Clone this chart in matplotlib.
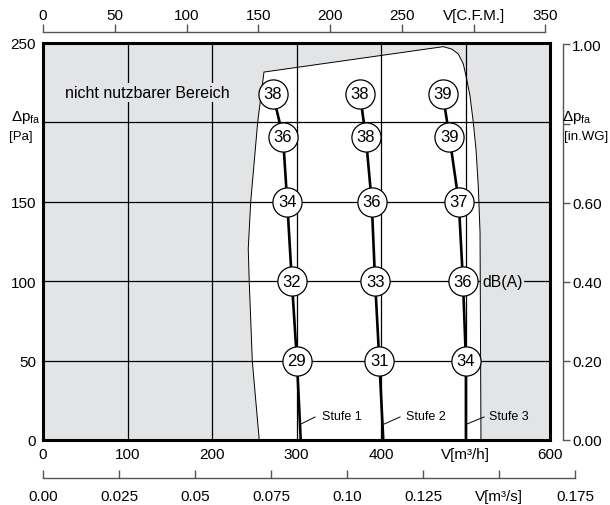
import numpy as np
import matplotlib
matplotlib.use("Agg")
import matplotlib.pyplot as plt

plt.rcParams['font.family'] = ['Liberation Sans', 'DejaVu Sans']
plt.rcParams['mathtext.fontset'] = 'custom'
plt.rcParams['mathtext.rm'] = 'Liberation Sans'
plt.rcParams['mathtext.it'] = 'Liberation Sans:italic'

# Kennlinien: Volumenstrom [m3/h], Druck [Pa], Schallpegel [dB(A)]
stufe1_q = [272, 284, 289, 294.5, 300.5, 305]
stufe1_p = [218, 191, 150, 100, 50, 0]
stufe1_db = [38, 36, 34, 32, 29]

stufe2_q = [375, 382, 389, 393, 398, 402.7]
stufe2_p = [218, 191, 150, 100, 50, 0]
stufe2_db = [38, 38, 36, 33, 31]

stufe3_q = [473, 481, 492, 497, 500.5, 500.5]
stufe3_p = [218, 191, 150, 100, 50, 0]
stufe3_db = [39, 39, 37, 36, 34]

# Grenze des nutzbaren Bereichs
grenze_q = [255.9, 247.7, 244.1, 242.9, 245.8, 254.1, 261.5,
            473.7, 483.7, 491.5, 497.4, 501.4, 505.3, 509.2, 512.4,
            515.1, 517.2, 518.3]
grenze_p = [0, 49.7, 99.5, 120.3, 149.9, 200.3, 231.7,
            247.7, 246.2, 243.1, 236.8, 227.3, 216.8, 200.1, 183.2,
            160.1, 130.8, 0]

x_ticks = [0, 100, 200, 300, 400, 500, 600]
x_labels = ['0', '100', '200', '300', '400', 'V[m³/h]', '600']
y_ticks = [0, 50, 100, 150, 200, 250]
y_labels = ['0', '50', '100', '150', '', '250']

cfm_ticks = [0, 50, 100, 150, 200, 250, 300, 350]
cfm_labels = ['0', '50', '100', '150', '200', '250', 'V[C.F.M.]', '350']
m3s_ticks = [0, 0.025, 0.05, 0.075, 0.10, 0.125, 0.15, 0.175]
m3s_labels = ['0.00', '0.025', '0.05', '0.075', '0.10', '0.125', 'V[m³/s]', '0.175']
inwg_ticks = [0, 0.2, 0.4, 0.6, 0.8, 1.0]
inwg_labels = ['0.00', '0.20', '0.40', '0.60', '', '1.00']

M3H_PER_CFM = 1.699
PA_PER_INWG = 249.09

gray = '#e3e4e6'
axis_gray = '#555555'

W_PX, H_PX = 610, 506
fig = plt.figure(figsize=(W_PX / 100, H_PX / 100), dpi=100)

def fx(x):
    return x / W_PX

def fy(y):
    return 1 - y / H_PX

L, R, T, B = fx(43), fx(550), fy(44), fy(441)
ax = fig.add_axes([L, B, R - L, T - B])
ax.set_xlim(0, 600)
ax.set_ylim(0, 250)
ax.set_facecolor(gray)

ax.fill(grenze_q, grenze_p, color='white', zorder=0.5, lw=0)
ax.plot(grenze_q, grenze_p, color='black', lw=0.7, zorder=2)

ax.set_xticks(x_ticks)
ax.set_xticklabels(x_labels)
ax.set_yticks(y_ticks)
ax.set_yticklabels(y_labels)
ax.grid(True, color='black', lw=0.9)
ax.tick_params(length=0, labelsize=11, pad=5)
for s in ax.spines.values():
    s.set_linewidth(2.2)
    s.set_zorder(6)

for q, p, db in [(stufe1_q, stufe1_p, stufe1_db),
                 (stufe2_q, stufe2_p, stufe2_db),
                 (stufe3_q, stufe3_p, stufe3_db)]:
    ax.plot(q, p, color='black', lw=1.9, zorder=3)
    ax.plot(q[:-1], p[:-1], 'o', ms=21, mfc='white', mec='black', mew=0.9, zorder=4)
    for qq, pp, d in zip(q[:-1], p[:-1], db):
        ax.text(qq, pp, str(d), ha='center', va='center', fontsize=12, zorder=5)

# Beschriftungen der Stufen
stufen = [('Stufe 1', 305, 322, 330), ('Stufe 2', 403.5, 422.5, 430), ('Stufe 3', 501.4, 522, 528)]
for name, x0, x1, xt in stufen:
    ax.plot([x0, x1], [10, 14.5], color='black', lw=0.7, zorder=3)
    ax.text(xt, 15.3, name, ha='left', va='center', fontsize=9, zorder=5)

ax.text(26, 219, 'nicht nutzbarer Bereich', ha='left', va='center', fontsize=11.5,
        bbox=dict(facecolor=gray, edgecolor='none', pad=1.5), zorder=5)
ax.text(520, 100, 'dB(A)', ha='left', va='center', fontsize=11.3,
        bbox=dict(facecolor=gray, edgecolor='none', pad=1.0), zorder=5)

# obere Achse C.F.M.
ax_top = fig.add_axes([L, fy(33) - 0.001, R - L, 0.001])
ax_top.set_xlim(0, 600 / M3H_PER_CFM)
ax_top.patch.set_visible(False)
for k in ['left', 'right', 'bottom']:
    ax_top.spines[k].set_visible(False)
ax_top.spines['top'].set_color(axis_gray)
ax_top.spines['top'].set_linewidth(1.0)
ax_top.spines['top'].set_bounds(0, 350)
ax_top.set_yticks([])
ax_top.xaxis.tick_top()
ax_top.set_xticks(cfm_ticks)
ax_top.set_xticklabels(cfm_labels)
ax_top.tick_params(axis='x', direction='out', length=6, width=1.0, color=axis_gray,
                   labelsize=11, pad=1)

# untere Achse m3/s
ax_bot = fig.add_axes([L, fy(479), (R - L) * 630 / 600, 0.001])
ax_bot.set_xlim(0, 0.175)
ax_bot.patch.set_visible(False)
for k in ['left', 'right', 'top']:
    ax_bot.spines[k].set_visible(False)
ax_bot.spines['bottom'].set_color(axis_gray)
ax_bot.spines['bottom'].set_linewidth(1.0)
ax_bot.set_yticks([])
ax_bot.set_xticks(m3s_ticks)
ax_bot.set_xticklabels(m3s_labels)
ax_bot.tick_params(axis='x', direction='in', length=6, width=1.0, color=axis_gray,
                   labelsize=11, pad=8)

# rechte Achse in.WG
ax_r = fig.add_axes([fx(562), B, 0.001, T - B])
ax_r.set_ylim(0, 250 / PA_PER_INWG)
ax_r.patch.set_visible(False)
for k in ['left', 'top', 'bottom']:
    ax_r.spines[k].set_visible(False)
ax_r.spines['right'].set_color(axis_gray)
ax_r.spines['right'].set_linewidth(1.0)
ax_r.spines['right'].set_bounds(0, 1.0)
ax_r.set_xticks([])
ax_r.yaxis.tick_right()
ax_r.set_yticks(inwg_ticks)
ax_r.set_yticklabels(inwg_labels)
ax_r.tick_params(axis='y', direction='out', length=5, width=1.0, color=axis_gray,
                 labelsize=11, pad=2)

# Achsentitel Druck
fig.text(fx(41), fy(118), r'Δp$_{\mathregular{fa}}$', ha='right', va='center', fontsize=11)
fig.text(fx(33), fy(137), '[Pa]', ha='right', va='center', fontsize=9.5)
fig.text(fx(592), fy(118), r'Δp$_{\mathregular{fa}}$', ha='right', va='center', fontsize=11)
fig.text(fx(608), fy(137), '[in.WG]', ha='right', va='center', fontsize=9.5)

fig.savefig('out.png', dpi=100)
